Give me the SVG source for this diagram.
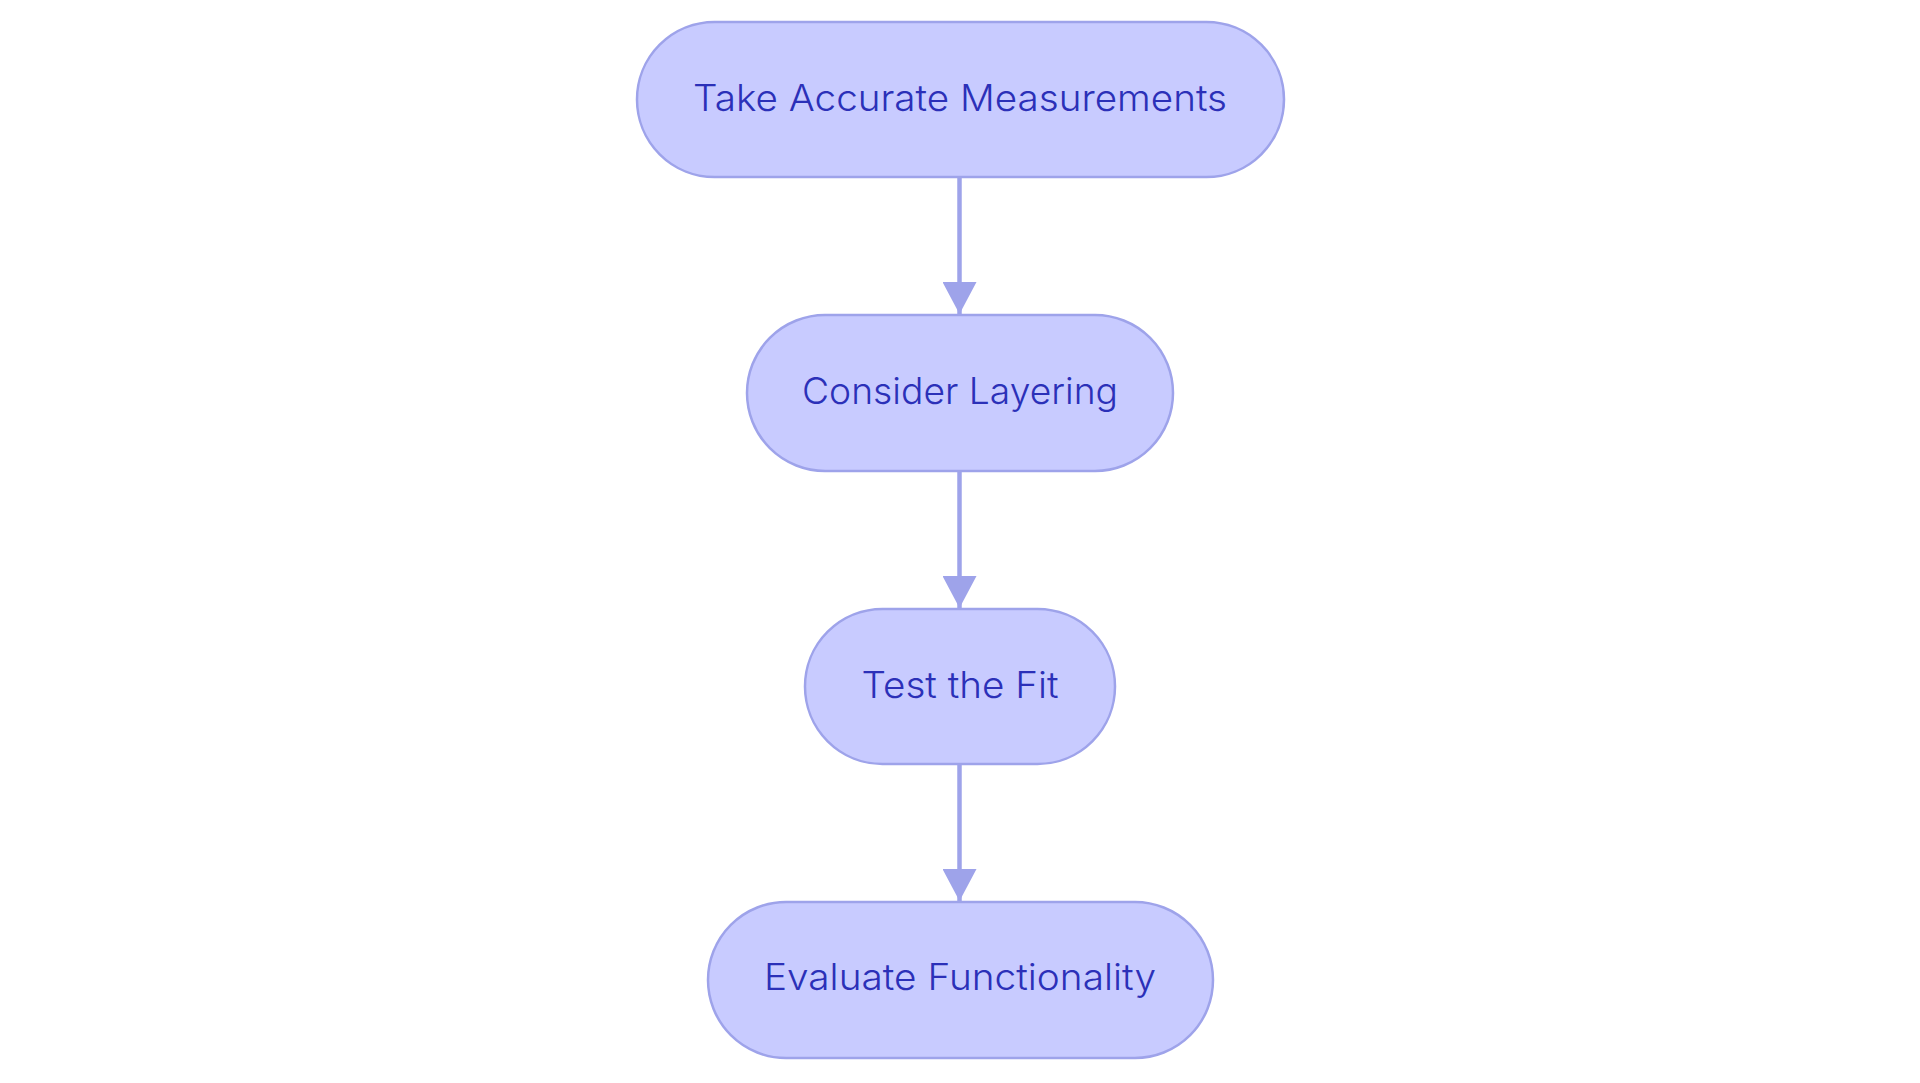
<svg xmlns="http://www.w3.org/2000/svg" width="1920" height="1083" viewBox="0 0 1920 1083">
<style>
.node rect{fill:#c8cbff;stroke:#9ea3ea;stroke-width:2.5}
.node text{font-family:Inter,"Noto Sans","Liberation Sans",sans-serif;font-size:37px;font-weight:300;fill:#2b30b8;text-anchor:middle}
.edge{stroke:#9ea3ea;stroke-width:4.5;fill:none}
</style>
<defs>
<marker id="arrow" markerUnits="userSpaceOnUse" markerWidth="34" markerHeight="34" refX="32" refY="17" orient="auto" viewBox="0 0 34 34">
<path d="M0,0 L32,17 L0,34 Z" fill="#9ea3ea"/>
</marker>
</defs>
<rect width="1920" height="1083" fill="#ffffff"/>
<g id="connectors">
<line class="edge" x1="959.5" y1="177" x2="959.5" y2="314" marker-end="url(#arrow)"/>
<line class="edge" x1="959.5" y1="471" x2="959.5" y2="608" marker-end="url(#arrow)"/>
<line class="edge" x1="959.5" y1="764" x2="959.5" y2="901" marker-end="url(#arrow)"/>
</g>
<g id="node1" class="node">
<rect x="637" y="22" width="647" height="155" rx="77.5"/>
<text x="960" y="111" textLength="534" lengthAdjust="spacingAndGlyphs">Take Accurate Measurements</text>
</g>
<g id="node2" class="node">
<rect x="747" y="315" width="426" height="156" rx="78"/>
<text x="960" y="404" textLength="316" lengthAdjust="spacingAndGlyphs">Consider Layering</text>
</g>
<g id="node3" class="node">
<rect x="805" y="609" width="310" height="155" rx="77.5"/>
<text x="960" y="698" textLength="197" lengthAdjust="spacingAndGlyphs">Test the Fit</text>
</g>
<g id="node4" class="node">
<rect x="708" y="902" width="505" height="156" rx="78"/>
<text x="960" y="990" textLength="392" lengthAdjust="spacingAndGlyphs">Evaluate Functionality</text>
</g>
</svg>
